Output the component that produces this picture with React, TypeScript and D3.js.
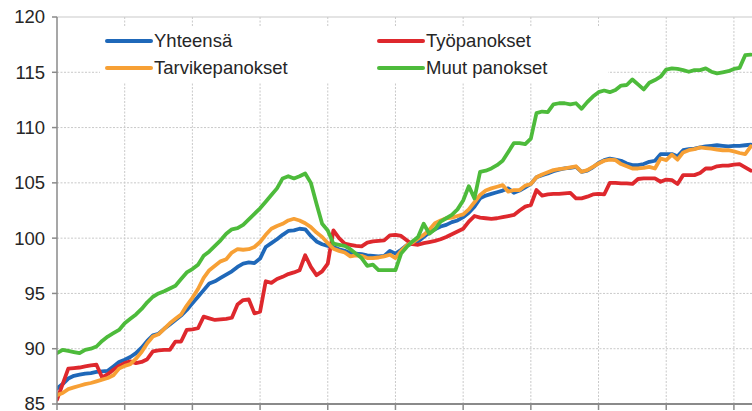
import React from "react";
import * as d3 from "d3";

const seriesNames = ["Yhteensä", "Työpanokset", "Tarvikepanokset", "Muut panokset"];
const seriesColors = ["#1f68b9", "#de282d", "#f7a035", "#4dbb3b"];

const yhteensa = [
  86.4, 86.8, 87.3, 87.55, 87.65, 87.75, 87.8, 87.9, 87.95, 88.0, 88.4, 88.8,
  89.0, 89.25, 89.6, 90.1, 90.7, 91.2, 91.35, 91.8, 92.2, 92.6, 93.0, 93.5,
  94.1, 94.7, 95.3, 95.9, 96.1, 96.4, 96.7, 97.0, 97.4, 97.7, 97.8, 97.75,
  98.15, 99.2, 99.55, 99.9, 100.3, 100.65, 100.7, 100.85, 100.8, 100.2, 99.7, 99.45,
  99.3, 99.2, 99.0, 98.85, 98.65, 98.6, 98.55, 98.45, 98.4, 98.35, 98.4, 98.85,
  98.6, 98.95, 99.35, 99.5, 99.7, 100.1, 100.5, 100.8, 101.05, 101.2, 101.45, 101.6,
  101.9, 102.3, 102.85, 103.6, 103.85, 104.0, 104.15, 104.3, 104.5, 104.1, 104.3, 104.6,
  104.9, 105.5, 105.7, 105.85, 106.05, 106.2, 106.3, 106.35, 106.45, 106.0, 106.1, 106.4,
  106.8, 107.05, 107.2, 107.1, 107.0, 106.75, 106.6, 106.6, 106.7, 106.9, 107.0, 107.6,
  107.6, 107.6, 107.4, 107.95, 108.05, 108.1, 108.2, 108.3, 108.35, 108.4, 108.35, 108.3,
  108.35, 108.35, 108.4, 108.45,
];

const tyopanokset = [
  85.4, 86.8, 88.2, 88.25, 88.3, 88.4, 88.5, 88.55, 87.4, 87.7, 88.1, 88.45,
  88.7, 88.85, 88.7, 88.8, 89.05, 89.75, 89.85, 89.9, 89.9, 90.65, 90.65, 91.7,
  91.75, 91.85, 92.9, 92.75, 92.6, 92.65, 92.7, 92.8, 94.0, 94.4, 94.45, 93.2,
  93.35, 96.1, 95.95, 96.3, 96.5, 96.75, 96.9, 97.1, 98.45, 97.4, 96.65, 97.0,
  97.7, 100.7, 100.0, 99.5, 99.4, 99.3, 99.25, 99.6, 99.7, 99.75, 99.8, 100.25,
  100.3, 100.2, 99.8, 99.45, 99.4, 99.55, 99.65, 99.75, 99.9, 100.1, 100.35, 100.6,
  100.85, 101.5, 102.0, 101.85, 101.8, 101.75, 101.8, 101.9, 102.0, 102.1, 102.5, 102.85,
  103.0, 104.35, 103.85, 103.95, 104.0, 104.0, 104.05, 104.1, 103.6, 103.6, 103.75, 103.95,
  104.0, 103.95, 105.0, 105.0, 104.95, 104.95, 104.9, 105.35, 105.4, 105.4, 105.4, 105.1,
  105.3, 105.25, 104.9, 105.7, 105.7, 105.7, 105.9, 106.3, 106.3, 106.5, 106.55, 106.55,
  106.65, 106.7, 106.4, 106.1,
];

const tarvikepanokset = [
  85.8, 86.0, 86.35, 86.5, 86.65, 86.8, 86.9, 87.05, 87.2, 87.35, 87.6, 88.2,
  88.45, 88.6, 89.1, 89.7, 90.5, 91.1, 91.3, 91.8, 92.3, 92.7, 93.1, 93.9,
  94.6, 95.4, 96.4, 97.1, 97.5, 97.9, 98.1, 98.7, 99.0, 98.95, 99.0, 99.2,
  99.65, 100.3, 100.85, 101.1, 101.3, 101.6, 101.75, 101.6, 101.35, 101.0, 100.5, 100.1,
  99.55, 99.05, 98.85, 98.7, 98.35, 98.45, 98.4, 98.2, 98.2, 98.25, 98.35, 98.5,
  98.2, 98.85, 99.35, 99.6, 99.95, 100.3, 100.75, 101.35, 101.6, 101.8, 101.85, 102.0,
  102.15, 102.6, 103.25, 103.9, 104.3, 104.5, 104.65, 104.8, 104.2, 104.35, 104.35, 104.75,
  104.9, 105.5, 105.75, 105.95, 106.15, 106.25, 106.3, 106.4, 106.5, 106.0, 106.15, 106.45,
  106.75, 107.0, 107.1, 107.05, 106.7, 106.5, 106.3, 106.3, 106.35, 106.45, 106.3, 107.2,
  107.05, 107.55, 107.1, 107.75, 107.95, 108.05, 108.2, 108.15, 108.1, 108.0, 107.95, 107.95,
  107.85, 107.7, 107.6, 108.3,
];

const muutPanokset = [
  89.6, 89.9, 89.8, 89.7, 89.6, 89.9, 90.0, 90.2, 90.7, 91.1, 91.4, 91.7,
  92.3, 92.7, 93.1, 93.6, 94.2, 94.7, 95.0, 95.2, 95.45, 95.7, 96.3, 96.9,
  97.2, 97.6, 98.4, 98.8, 99.3, 99.8, 100.4, 100.8, 100.9, 101.2, 101.7, 102.2,
  102.7, 103.3, 103.9, 104.5, 105.4, 105.6, 105.4, 105.6, 105.85, 105.0, 103.1, 101.3,
  100.7, 99.5, 99.4, 99.3, 99.0, 98.6, 98.2, 97.5, 97.6, 97.1, 97.1, 97.1,
  97.1, 98.6, 99.2, 99.7, 100.1, 101.3, 100.4, 100.8, 101.5, 101.8, 102.1, 102.6,
  103.4, 104.7, 103.6, 106.0, 106.1, 106.3, 106.6, 107.0, 107.8, 108.6, 108.6, 108.5,
  109.0, 111.3, 111.45, 111.4, 112.1, 112.2, 112.2, 112.1, 112.2, 111.7, 112.3, 112.8,
  113.2, 113.35, 113.2, 113.4, 113.8, 113.85, 114.35, 113.9, 113.45, 114.05, 114.3, 114.6,
  115.25, 115.35, 115.3, 115.2, 115.05, 115.2, 115.2, 115.35, 115.05, 114.9, 115.0, 115.1,
  115.3, 115.4, 116.55, 116.6,
];

const yTicks = [85, 90, 95, 100, 105, 110, 115, 120];
const monthsPerYear = 12;
const yearCount = 11;

export default function App() {
  const W = 752;
  const H = 411;
  const left = 57;
  const top = 17;
  const bottom = 404;
  const monthStep = 5.641;

  const allSeries = [yhteensa, tyopanokset, tarvikepanokset, muutPanokset];
  const totalMonths = monthsPerYear * (yearCount + 1);

  const x = d3.scaleLinear().domain([0, totalMonths]).range([left, left + totalMonths * monthStep]);
  const y = d3.scaleLinear().domain([85, 120]).range([bottom, top]);

  const line = d3
    .line<number>()
    .x((_, i) => x(i))
    .y((d) => y(d));

  const yearTicks = d3.range(0, totalMonths + 1, monthsPerYear).filter((m) => x(m) <= W);

  const font = "'Liberation Sans', Arial, sans-serif";
  const gridColor = "#c9c9c9";

  const legendRows = [
    { idx: 0, col: 0, row: 0 },
    { idx: 1, col: 1, row: 0 },
    { idx: 2, col: 0, row: 1 },
    { idx: 3, col: 1, row: 1 },
  ];
  const colX = [107, 379];
  const rowY = [41, 68];

  return (
    <svg
      width={W}
      height={H}
      style={{ position: "absolute", left: 0, top: 0, background: "#fff" }}
      fontFamily={font}
    >
      <defs>
        <clipPath id="plotClip">
          <rect x={left} y={0} width={W - left} height={H} />
        </clipPath>
      </defs>
      <rect x={0} y={0} width={W} height={H} fill="#fff" />

      {/* horizontal gridlines */}
      {yTicks
        .filter((t) => t !== 85)
        .map((t) => (
          <line
            key={"hg" + t}
            x1={left}
            x2={W}
            y1={y(t)}
            y2={y(t)}
            stroke={gridColor}
            strokeWidth={1}
            strokeDasharray={t === 120 ? undefined : "2,1.5"}
          />
        ))}
      {/* vertical gridlines */}
      {yearTicks
        .filter((m) => m !== 0)
        .map((m) => (
          <line
            key={"vg" + m}
            x1={x(m)}
            x2={x(m)}
            y1={top}
            y2={bottom}
            stroke={gridColor}
            strokeWidth={1}
            strokeDasharray="2,1.5"
          />
        ))}

      {/* legend background */}
      <rect x={100} y={27} width={508} height={55} fill="#fff" />

      {/* series */}
      <g clipPath="url(#plotClip)">
        {allSeries.map((s, k) => (
          <path
            key={"s" + k}
            d={line(s) || ""}
            fill="none"
            stroke={seriesColors[k]}
            strokeWidth={3.8}
            strokeLinejoin="round"
            strokeLinecap="round"
          />
        ))}
      </g>

      {/* axes */}
      <line x1={left} x2={left} y1={top} y2={bottom} stroke="#8a8a8a" strokeWidth={1.5} />
      {yTicks.map((t) => (
        <g key={"yt" + t}>
          <line x1={left - 5} x2={left} y1={y(t)} y2={y(t)} stroke="#8a8a8a" strokeWidth={1.5} />
          <text
            x={45}
            y={y(t)}
            dy="0.35em"
            textAnchor="end"
            fontSize={18.5}
            fill="#262626"
          >
            {t}
          </text>
        </g>
      ))}
      <line x1={left} x2={W} y1={bottom} y2={bottom} stroke="#8a8a8a" strokeWidth={2} />
      {yearTicks.map((m) => (
        <line
          key={"xt" + m}
          x1={x(m)}
          x2={x(m)}
          y1={bottom}
          y2={bottom + 6}
          stroke="#8a8a8a"
          strokeWidth={1.5}
        />
      ))}

      {/* legend */}
      {legendRows.map((r) => (
        <g key={"lg" + r.idx}>
          <line
            x1={colX[r.col]}
            x2={colX[r.col] + 44}
            y1={rowY[r.row]}
            y2={rowY[r.row]}
            stroke={seriesColors[r.idx]}
            strokeWidth={4}
            strokeLinecap="round"
          />
          <text
            x={colX[r.col] + 47}
            y={rowY[r.row]}
            dy="0.35em"
            fontSize={18.5}
            fill="#262626"
          >
            {seriesNames[r.idx]}
          </text>
        </g>
      ))}
    </svg>
  );
}
